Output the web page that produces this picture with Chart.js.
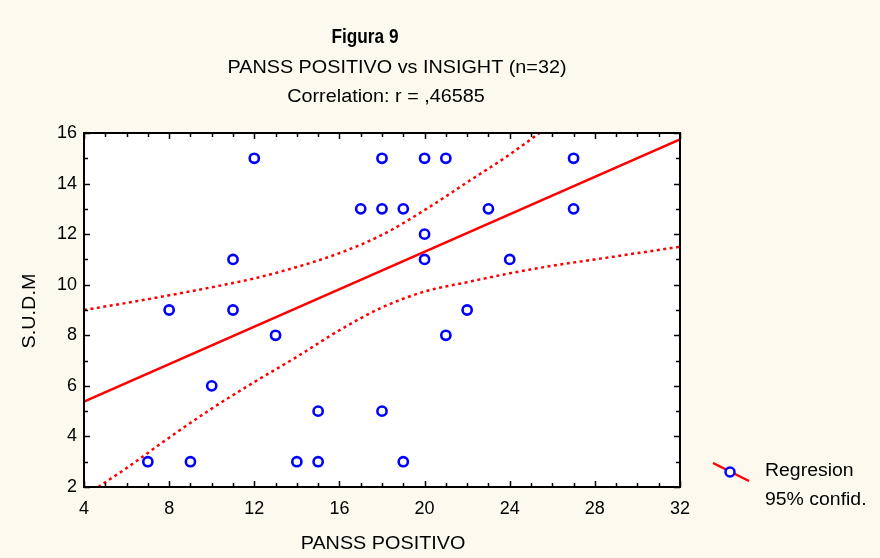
<!DOCTYPE html>
<html>
<head>
<meta charset="utf-8">
<script src="https://cdn.jsdelivr.net/npm/chart.js@4.4.1/dist/chart.umd.min.js"></script>
<style>
  html, body { margin: 0; padding: 0; background: #fdf9ee; }
  #wrap { width: 880px; height: 558px; }
</style>
</head>
<body>
<div id="wrap"><canvas id="scatterChart" width="880" height="558"></canvas></div>
<script>
"use strict";

// data
var panssPositivo = [7, 8, 9, 10, 11, 11, 12, 13, 14, 15, 15, 17, 18, 18, 18, 19, 19, 20, 20, 20, 21, 21, 22, 23, 24, 27, 27];
var sudm = [3, 9, 3, 6, 11, 9, 15, 8, 3, 5, 3, 13, 15, 13, 5, 13, 3, 15, 12, 11, 15, 8, 9, 13, 11, 15, 13];

// regression line ends
var regX = [4, 32];
var regY = [5.38, 15.75];

// 95% confidence band
var upperX = [4, 6, 8, 10, 12, 14, 16, 18, 20, 22, 24, 25.4];
var upperY = [9.0, 9.28, 9.58, 9.9, 10.25, 10.7, 11.25, 11.97, 12.95, 14.05, 15.15, 16.0];
var lowerX = [4.67, 6, 8, 10, 12, 14, 16, 18, 20, 22, 24, 26, 28, 30, 32];
var lowerY = [2.0, 2.75, 3.95, 5.1, 6.15, 7.15, 8.2, 9.1, 9.73, 10.1, 10.45, 10.75, 11.0, 11.25, 11.5];

var xTicks = [4, 8, 12, 16, 20, 24, 28, 32];
var yTicks = [2, 4, 6, 8, 10, 12, 14, 16];

function pairs(xs, ys) {
  return xs.map(function (x, i) { return { x: x, y: ys[i] }; });
}

var FONT = "'Liberation Sans', Arial, sans-serif";
var RED = "#ff0000";
var BLUE = "#0000ff";

// white plot box, inward ticks all round
var frameTicks = {
  id: "frameTicks",
  beforeDraw: function (chart) {
    var a = chart.chartArea, ctx = chart.ctx;
    ctx.save();
    ctx.fillStyle = "#ffffff";
    ctx.fillRect(a.left, a.top, a.right - a.left, a.bottom - a.top);
    ctx.restore();
  },
  afterDatasetsDraw: function (chart) {
    var a = chart.chartArea, ctx = chart.ctx;
    var xs = chart.scales.x, ys = chart.scales.y;
    ctx.save();
    ctx.strokeStyle = "#000";
    ctx.lineWidth = 1.5;
    ctx.beginPath();
    var v, p, len;
    for (v = xs.min; v <= xs.max; v++) {
      p = Math.round(xs.getPixelForValue(v)) + 0.5;
      len = xTicks.indexOf(v) >= 0 ? 6 : 4;
      ctx.moveTo(p, a.bottom); ctx.lineTo(p, a.bottom - len);
      ctx.moveTo(p, a.top); ctx.lineTo(p, a.top + len);
    }
    for (v = ys.min; v <= ys.max; v++) {
      p = Math.round(ys.getPixelForValue(v)) + 0.5;
      len = yTicks.indexOf(v) >= 0 ? 6 : 4;
      ctx.moveTo(a.left, p); ctx.lineTo(a.left + len, p);
      ctx.moveTo(a.right, p); ctx.lineTo(a.right - len, p);
    }
    ctx.stroke();
    ctx.lineWidth = 2;
    ctx.strokeRect(a.left, a.top, a.right - a.left, a.bottom - a.top);
    ctx.restore();
  }
};

// text drawn a little wider/narrower like the original export
function stretchText(ctx, text, x, y, sx) {
  ctx.save();
  ctx.translate(x, y);
  ctx.scale(sx, 1);
  ctx.fillText(text, 0, 0);
  ctx.restore();
}

// titles, axis names and the legend
var texts = {
  id: "texts",
  afterDraw: function (chart) {
    var ctx = chart.ctx;
    ctx.save();
    ctx.fillStyle = "#000";
    ctx.textAlign = "center";
    ctx.textBaseline = "middle";
    ctx.font = "bold 20px " + FONT;
    stretchText(ctx, "Figura 9", 365, 37, 0.86);
    ctx.font = "18px " + FONT;
    stretchText(ctx, "PANSS POSITIVO vs INSIGHT (n=32)", 397, 68, 1.1);
    stretchText(ctx, "Correlation: r = ,46585", 386, 97, 1.1);
    stretchText(ctx, "PANSS POSITIVO", 383, 544, 1.1);

    ctx.save();
    ctx.translate(30, 311);
    ctx.rotate(-Math.PI / 2);
    ctx.scale(1.1, 1);
    ctx.fillText("S.U.D.M", 0, 0);
    ctx.restore();

    // legend
    ctx.strokeStyle = RED;
    ctx.lineWidth = 2.5;
    ctx.beginPath();
    ctx.moveTo(713, 463);
    ctx.lineTo(749, 481);
    ctx.stroke();
    ctx.fillStyle = "#fff";
    ctx.strokeStyle = BLUE;
    ctx.lineWidth = 2.5;
    ctx.beginPath();
    ctx.arc(730, 472, 4.5, 0, Math.PI * 2);
    ctx.fill();
    ctx.stroke();
    ctx.fillStyle = "#000";
    ctx.textAlign = "left";
    stretchText(ctx, "Regresion", 765, 471, 1.08);
    stretchText(ctx, "95% confid.", 765, 500, 1.08);
    ctx.restore();
  }
};

var ctx = document.getElementById("scatterChart");
var chart = new Chart(ctx, {
  type: "scatter",
  data: {
    datasets: [
      {
        label: "PANSS POSITIVO vs S.U.D.M",
        data: pairs(panssPositivo, sudm),
        pointRadius: 4.6,
        pointBorderWidth: 2.6,
        pointBorderColor: BLUE,
        pointBackgroundColor: "rgba(0,0,0,0)",
        order: 0,
      },
      {
        label: "Regresion",
        type: "line",
        data: pairs(regX, regY),
        borderColor: RED,
        borderWidth: 2.5,
        pointRadius: 0,
        order: 1,
      },
      {
        label: "95% confid. sup",
        type: "line",
        data: pairs(upperX, upperY),
        borderColor: RED,
        borderWidth: 2.5,
        borderDash: [3, 3.5],
        cubicInterpolationMode: "monotone",
        pointRadius: 0,
        order: 2,
      },
      {
        label: "95% confid. inf",
        type: "line",
        data: pairs(lowerX, lowerY),
        borderColor: RED,
        borderWidth: 2.5,
        borderDash: [3, 3.5],
        cubicInterpolationMode: "monotone",
        pointRadius: 0,
        order: 2,
      },
    ],
  },
  options: {
    responsive: false,
    animation: false,
    devicePixelRatio: 1,
    layout: { padding: { top: 133, right: 200, left: 0, bottom: 0 } },
    plugins: {
      legend: { display: false },
      tooltip: { enabled: false },
    },
    scales: {
      x: {
        type: "linear",
        min: 4,
        max: 32,
        grid: { display: false, drawTicks: false },
        border: { display: false },
        afterBuildTicks: function (s) {
          s.ticks = xTicks.map(function (v) { return { value: v }; });
        },
        afterFit: function (s) { s.height = 71; },
        ticks: {
          color: "#000",
          padding: 11,
          maxRotation: 0,
          font: { family: FONT, size: 18 },
        },
      },
      y: {
        type: "linear",
        min: 2,
        max: 16,
        grid: { display: false, drawTicks: false },
        border: { display: false },
        afterBuildTicks: function (s) {
          s.ticks = yTicks.map(function (v) { return { value: v }; });
        },
        afterFit: function (s) { s.width = 84; },
        ticks: {
          color: "#000",
          padding: 7,
          font: { family: FONT, size: 18 },
        },
      },
    },
  },
  plugins: [frameTicks, texts],
});
</script>
</body>
</html>
